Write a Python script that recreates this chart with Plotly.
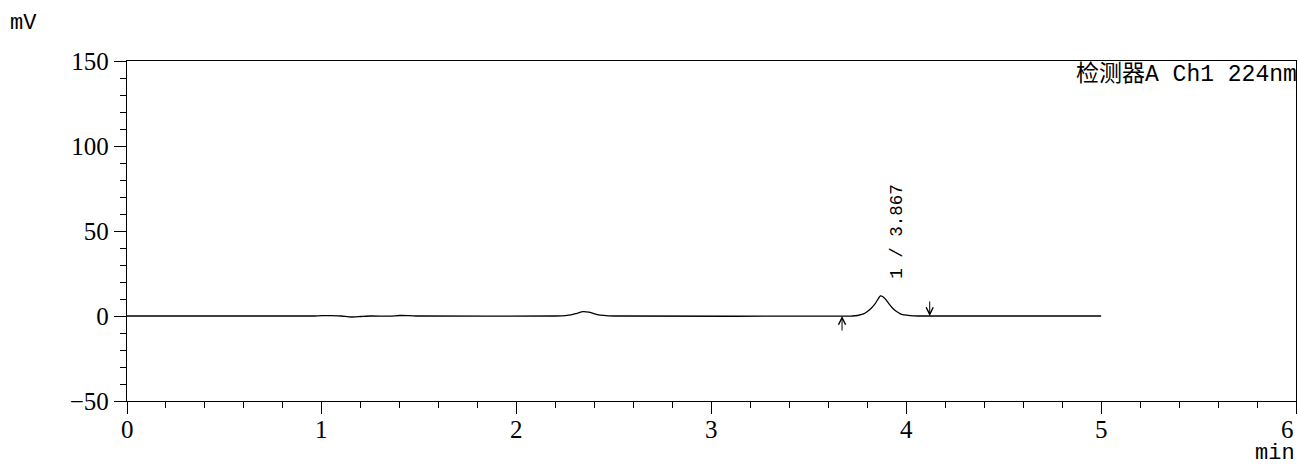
import plotly.graph_objects as go

# Chromatogram trace (time in min, signal in mV)
time_min = [0.00, 0.95, 1.00, 1.05, 1.10, 1.15, 1.20, 1.25, 1.35, 1.40, 1.45, 1.50,
            2.20, 2.25, 2.28, 2.31, 2.34, 2.37, 2.40, 2.43, 2.47, 2.52,
            3.72, 3.75, 3.78, 3.80, 3.82, 3.84, 3.855, 3.867, 3.88, 3.895, 3.91,
            3.93, 3.95, 3.97, 3.99, 4.02, 4.06, 5.00]
signal_mv = [0.0, 0.0, 0.2, 0.2, 0.0, -0.6, -0.3, 0.0, -0.1, 0.3, 0.2, 0.0,
             0.0, 0.2, 0.6, 1.6, 2.6, 2.3, 1.3, 0.5, 0.1, 0.0,
             0.0, 0.3, 1.2, 2.6, 4.6, 7.3, 10.0, 11.8, 11.3, 9.6, 7.3,
             4.6, 2.6, 1.3, 0.6, 0.2, 0.0, 0.0]

# Peak annotation
peak_label = "1 / 3.867"
peak_rt = 3.867
peak_start = 3.67
peak_end = 4.12

detector_label = "检测器A Ch1 224nm"
x_ticks = [0, 1, 2, 3, 4, 5, 6]
x_tick_text = ["0", "1", "2", "3", "4", "5", "6"]
y_ticks = [-50, 0, 50, 100, 150]
y_tick_text = ["\u221250", "0", "50", "100", "150"]

mono = "Liberation Mono, Noto Sans CJK SC"
serif = "Liberation Serif"

W, H = 1298, 465
L, R, T, B = 127, 2, 61, 64
PW, PH = W - L - R, H - T - B

fig = go.Figure()
fig.add_trace(go.Scatter(
    x=time_min, y=signal_mv, mode="lines",
    line=dict(color="black", width=1.3, shape="spline", smoothing=0.6),
    hoverinfo="skip", showlegend=False,
))

axis_common = dict(
    showgrid=False, zeroline=False, showline=True, linecolor="black", linewidth=1.3,
    mirror=True, ticks="outside", tickcolor="black", tickwidth=1.3, ticklen=12,
    tickfont=dict(family=serif, size=25, color="black"), automargin=False,
    ticklabeloverflow="allow",
)

fig.update_layout(
    width=W, height=H,
    margin=dict(l=L, r=R, t=T, b=B, autoexpand=False),
    paper_bgcolor="white", plot_bgcolor="white",
    xaxis=dict(range=[0, 6], tickvals=x_ticks, showticklabels=False,
               minor=dict(dtick=0.2, ticklen=6, ticks="outside", tickcolor="black", tickwidth=1.3),
               **axis_common),
    yaxis=dict(range=[-50, 150], tickvals=y_ticks, ticktext=y_tick_text,
               minor=dict(dtick=10, ticklen=6, ticks="outside", tickcolor="black", tickwidth=1.3),
               **axis_common),
)

# x tick labels (the last one kept inside the page, right-aligned as in the reference)
for i, (v, t) in enumerate(zip(x_ticks, x_tick_text)):
    last = i == len(x_ticks) - 1
    fig.add_annotation(text=t, x=v, xref="x", yref="paper", y=-28 / PH, height=20,
                       xanchor="right" if last else "center", yanchor="middle",
                       showarrow=False, font=dict(family=serif, size=25, color="black"))

fig.add_annotation(text="mV", xref="paper", yref="paper", x=-(L - 8) / PW, y=1 + 37 / PH,
                   xanchor="left", yanchor="middle", showarrow=False,
                   font=dict(family=mono, size=22, color="black"))
fig.add_annotation(text="min", xref="paper", yref="paper", x=1 + 1 / PW, y=-52 / PH, height=20,
                   xanchor="right", yanchor="middle", showarrow=False,
                   font=dict(family=mono, size=22, color="black"))
fig.add_annotation(text=detector_label, xref="paper", yref="paper", x=1 + 3 / PW, y=1 + 2 / PH,
                   xanchor="right", yanchor="top", showarrow=False,
                   font=dict(family=mono, size=23, color="black"))
fig.add_annotation(text=peak_label, x=peak_rt + 0.085, y=21, xanchor="center", yanchor="bottom",
                   textangle=-90, showarrow=False,
                   font=dict(family=mono, size=17.5, color="black"))
# Peak start (up arrow) and end (down arrow)
fig.add_annotation(x=peak_start, y=0, ax=0, ay=16, text="", showarrow=True,
                   arrowhead=5, arrowsize=1.4, arrowwidth=1, arrowcolor="black")
fig.add_annotation(x=peak_end, y=0, ax=0, ay=-16, text="", showarrow=True,
                   arrowhead=5, arrowsize=1.4, arrowwidth=1, arrowcolor="black")

fig.write_html("out.html", config={"displayModeBar": False},
               post_script="document.body.style.margin='0';document.body.style.overflow='hidden';")
